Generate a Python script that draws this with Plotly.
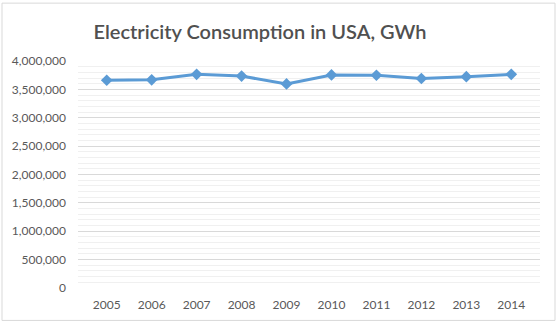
import plotly.graph_objects as go

years = ["2005", "2006", "2007", "2008", "2009", "2010", "2011", "2012", "2013", "2014"]
consumption = [3661000, 3669000, 3765000, 3734000, 3596000, 3754000, 3749000, 3692000, 3724000, 3765000]
ytick_vals = [0, 500000, 1000000, 1500000, 2000000, 2500000, 3000000, 3500000, 4000000]
ytick_text = ["0", "500,000", "1,000,000", "1,500,000", "2,000,000", "2,500,000",
              "3,000,000", "3,500,000", "4,000,000"]

L, R, T, B = 78, 20, 61, 37.5
W, H = 560, 326
pw, ph = W - L - R, H - T - B

fig = go.Figure()
fig.add_trace(go.Scatter(
    x=years, y=consumption, mode="lines+markers",
    line=dict(color="#5B9BD5", width=3),
    marker=dict(symbol="diamond", size=9, color="#5B9BD5"),
    hoverinfo="x+y",
))

fig.update_layout(
    width=W, height=H,
    margin=dict(l=L, r=R, t=T, b=B),
    paper_bgcolor="white", plot_bgcolor="white",
    showlegend=False,
    title=dict(text="Electricity Consumption in USA, GWh", x=260 / W, xanchor="center",
               y=1 - 32 / H, yanchor="middle",
               font=dict(family="Lato, Open Sans, sans-serif", size=20, color="#505050",
                         weight=600)),
    font=dict(family="Lato, Open Sans, sans-serif", size=12, color="#595959"),
    xaxis=dict(type="category", showgrid=False, zeroline=False, showline=False,
               ticks="", ticklabelstandoff=8, tickfont=dict(size=12, color="#595959")),
    yaxis=dict(range=[0, 4000000], tickvals=ytick_vals, ticktext=ytick_text,
               showgrid=True, gridcolor="#D9D9D9", gridwidth=1, zeroline=False,
               showline=False, ticks="", ticklen=0, ticklabelstandoff=11,
               minor=dict(dtick=100000, showgrid=True, gridcolor="#F0F0F0", gridwidth=1),
               tickfont=dict(size=12, color="#595959")),
    shapes=[dict(type="rect", xref="paper", yref="paper",
                 x0=(2 - L) / pw, x1=(555 - L) / pw,
                 y0=(H - B - 321) / ph, y1=(H - B - 3) / ph,
                 line=dict(color="#D9D9D9", width=1), fillcolor="rgba(0,0,0,0)",
                 layer="below")],
)

fig.write_html("out.html")
